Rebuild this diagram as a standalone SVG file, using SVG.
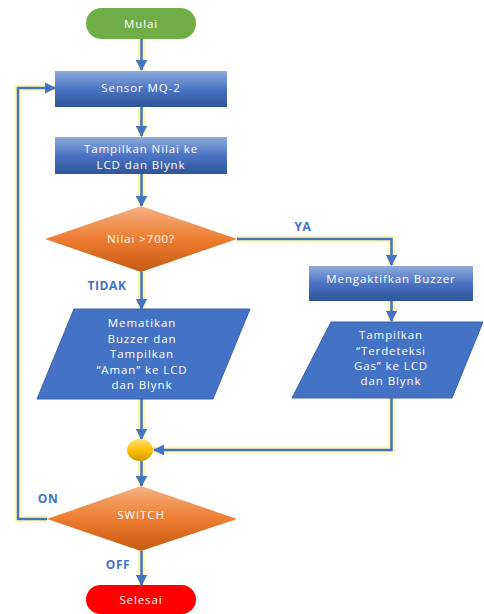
<svg xmlns="http://www.w3.org/2000/svg" width="484" height="614" viewBox="0 0 484 614">
<defs>
<linearGradient id="gBlue" x1="0" y1="0" x2="0" y2="1">
<stop offset="0" stop-color="#8eaadb"/><stop offset="0.5" stop-color="#4a74c4"/><stop offset="1" stop-color="#2f5597"/>
</linearGradient>
<linearGradient id="gOrange" x1="0" y1="0" x2="0" y2="1">
<stop offset="0" stop-color="#f4b183"/><stop offset="0.5" stop-color="#ed7d31"/><stop offset="1" stop-color="#c55a11"/>
</linearGradient>
<linearGradient id="gGold" x1="0" y1="0" x2="0" y2="1">
<stop offset="0" stop-color="#ffe07a"/><stop offset="0.5" stop-color="#ffc000"/><stop offset="1" stop-color="#c99600"/>
</linearGradient>
<marker id="arr" viewBox="0 0 10 10" refX="9" refY="5" markerWidth="4.5" markerHeight="4.5" orient="auto">
<path d="M0,0 L10,5 L0,10 z" fill="#4472c4"/>
</marker>
<style>
.glow{fill:none;stroke:#fff59a;stroke-width:7;stroke-opacity:0.8}
.ln{fill:none;stroke:#4472c4;stroke-width:2.5;marker-end:url(#arr)}
.t{font-family:"Open Sans","Liberation Sans",sans-serif;font-size:11.5px;fill:#ffffff;text-anchor:middle;letter-spacing:0.9px}
.lb{font-family:"Open Sans","Liberation Sans",sans-serif;font-size:12px;font-weight:bold;fill:#4472c4;text-anchor:middle;letter-spacing:0.6px}
.par{fill:#4472c4;stroke:#3a62ab;stroke-width:1}
</style>
</defs>
<g id="connectors">
<path class="glow" d="M141.5 39 V70"/>
<path class="glow" d="M141.5 107 V136"/>
<path class="glow" d="M141.5 174 V206"/>
<path class="glow" d="M237 239 H391.5 V265"/>
<path class="glow" d="M141.5 272 V309"/>
<path class="glow" d="M391.5 301 V321"/>
<path class="glow" d="M141.5 399 V439"/>
<path class="glow" d="M391.5 398 V450 H154"/>
<path class="glow" d="M141.5 461 V486"/>
<path class="glow" d="M141.5 551 V585"/>
<path class="glow" d="M47 519 H18 V88 H55"/>
<path class="ln" d="M141.5 39 V70"/>
<path class="ln" d="M141.5 107 V136"/>
<path class="ln" d="M141.5 174 V206"/>
<path class="ln" d="M237 239 H391.5 V265"/>
<path class="ln" d="M141.5 272 V309"/>
<path class="ln" d="M391.5 301 V321"/>
<path class="ln" d="M141.5 399 V439"/>
<path class="ln" d="M391.5 398 V450 H154"/>
<path class="ln" d="M141.5 461 V486"/>
<path class="ln" d="M141.5 551 V585"/>
<path class="ln" d="M47 519 H18 V88 H55"/>
<text class="lb" x="303" y="231">YA</text>
<text class="lb" x="107" y="290">TIDAK</text>
<text class="lb" x="48" y="503">ON</text>
<text class="lb" x="118" y="569">OFF</text>
</g>
<g id="mulai">
<rect x="86" y="8" width="110" height="31" rx="15.5" fill="#70ad47"/>
<text class="t" x="141" y="28">Mulai</text>
</g>
<g id="sensor">
<rect x="55" y="71" width="172" height="36" fill="url(#gBlue)"/>
<text class="t" x="141" y="92">Sensor MQ-2</text>
</g>
<g id="tampil1">
<rect x="55" y="137" width="172" height="37" fill="url(#gBlue)"/>
<text class="t" x="141" y="153">Tampilkan Nilai ke</text>
<text class="t" x="141" y="169">LCD dan Blynk</text>
</g>
<g id="nilai">
<polygon points="141,206 237,239 141,272 45,239" fill="url(#gOrange)"/>
<text class="t" x="141" y="243">Nilai &gt;700?</text>
</g>
<g id="buzzer">
<rect x="309" y="266" width="164" height="35" fill="url(#gBlue)"/>
<text class="t" x="391" y="283">Mengaktifkan Buzzer</text>
</g>
<g id="aman">
<polygon class="par" points="74,309 250,309 213,399 37,399"/>
<text class="t" x="142" y="327">Mematikan</text>
<text class="t" x="142" y="342.5">Buzzer dan</text>
<text class="t" x="142" y="358">Tampilkan</text>
<text class="t" x="142" y="373.5">“Aman” ke LCD</text>
<text class="t" x="142" y="389">dan Blynk</text>
</g>
<g id="terdeteksi">
<polygon class="par" points="331,322 483,322 452,398 292,398"/>
<text class="t" x="391" y="339">Tampilkan</text>
<text class="t" x="391" y="354.5">“Terdeteksi</text>
<text class="t" x="391" y="370">Gas” ke LCD</text>
<text class="t" x="391" y="385">dan Blynk</text>
</g>
<g id="merge">
<ellipse cx="140" cy="450" rx="13" ry="11" fill="url(#gGold)"/>
</g>
<g id="switch">
<polygon points="141,486 237,519 141,551 47,519" fill="url(#gOrange)"/>
<text class="t" x="141" y="519">SWITCH</text>
</g>
<g id="selesai">
<rect x="86" y="585" width="110" height="29" rx="14.5" fill="#ff0000"/>
<text class="t" x="141" y="604">Selesai</text>
</g>
</svg>
